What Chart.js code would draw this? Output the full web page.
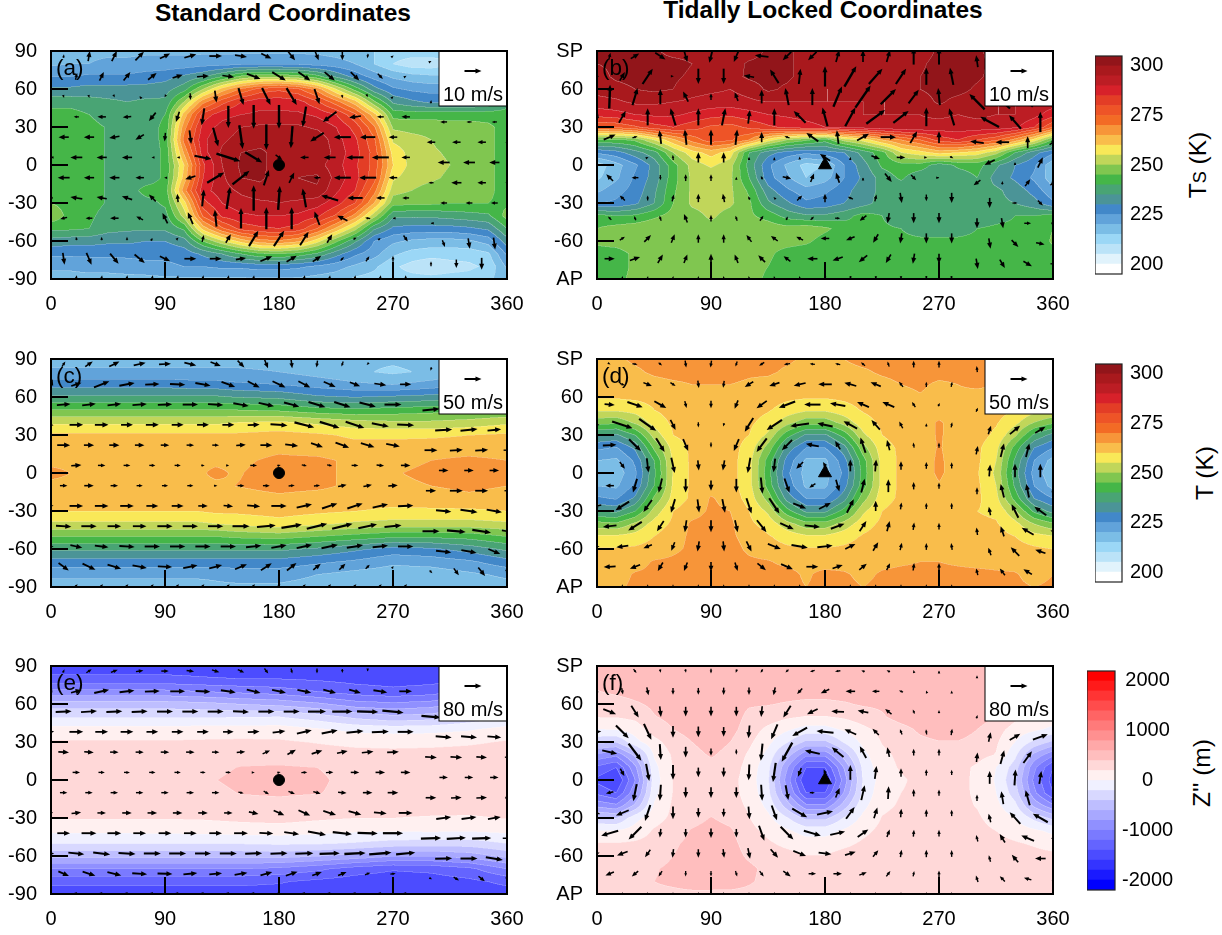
<!DOCTYPE html>
<html>
<head>
<meta charset="utf-8">
<title>Standard and Tidally Locked Coordinates</title>
<script src="https://cdn.jsdelivr.net/npm/chart.js@4"></script>
<style>
  body { margin: 0; background: #fff; font-family: "Liberation Sans", Arial, sans-serif; color: #000; }
  canvas { position: absolute; }
  .title { position: absolute; font-weight: bold; font-size: 24.5px; white-space: nowrap; transform: translateX(-50%); }
  .cbtitle { position: absolute; font-size: 24.5px; white-space: nowrap; transform: translate(-50%, -50%) rotate(-90deg); }
  .cbtitle span { font-size: 18px; }
</style>
</head>
<body>
<div class="title" style="left:283px;top:-1px">Standard Coordinates</div>
<div class="title" style="left:823px;top:-4px">Tidally Locked Coordinates</div>
<div class="cbtitle" style="left:1198px;top:165px">T<span>S</span> (K)</div>
<div class="cbtitle" style="left:1205px;top:473px">T (K)</div>
<div class="cbtitle" style="left:1202px;top:773px">Z'' (m)</div>
<script>
// grid axes
const lon15 = [0,15,30,45,60,75,90,105,120,135,150,165,180,195,210,225,240,255,270,285,300,315,330,345,360];
const lat10 = [90,80,70,60,50,40,30,20,10,0,-10,-20,-30,-40,-50,-60,-70,-80,-90];
const lonC = [0,30,60,90,115,130,145,180,210,240,270,300,330,360];
const lonE = [0,30,60,90,120,150,180,210,240,270,300,330,360];
const xTicks = [0,90,180,270,360];
const yTicks = [-90,-60,-30,0,30,60,90];
const windLats = [86,70,54,38,22,6,-10,-26,-42,-58,-74,-89];

// surface temperature, standard coordinates (K)
const aField = [
[219,219,219,219,219,219,219,219,219,219,219,219,219,219,219,218,217,215,213,213,213,213,213,215,219],
[219,220,220,221,221,222,222,222,223,223,224,224,224,224,223,222,220,215,210,207,207,209,211,213,219],
[225,225,226,226,226,227,228,231,234,240,246,249,249,247,242,234,228,223,219,217,216,216,217,219,225],
[231,231,232,232,232,232,233,238,250,262,271,277,279,276,268,255,243,232,226,224,223,223,224,226,231],
[238,238,237,236,235,236,236,250,268,278,285,288,288,287,281,272,262,246,234,231,229,229,229,231,238],
[242,242,240,237,237,238,240,262,282,288,290,291,291,291,289,285,276,262,243,243,243,243,243,243,242],
[243,243,242,239.5,237,238,241,268,287,292,295,296,296,296,294,290,283,271,249,248,248,247,247,246,243],
[243,243,242,239.5,237,238,241,272,289,294,297,298,298,299,299,292,286,276,254,252,250,247,246,246,243],
[243,243,242,239.5,237,237,241,266,288,296,300,301,298,300,300,293,287,278,258,253,251,249,247,246,243],
[243,243,242,239.5,236,237,241,260,284,295,301,302,296,298,297,292,286,278,260,253,252,250,247,246,243],
[243,243,242,239.5,237,237,241,262,285,294,300,301,297,300,301,293,287,277,256,252,251,249,247,246,243],
[243,242,242,239.5,237,242,242,268,288,293,296,298,297,298,299,291,285,272,252,250,248,247,246,246,243],
[245,243,242,239.5,237,238,241,258,283,290,293,294,295,294,292,287,280,265,247,246,246,245,245,245,244],
[249,243,241,238,237,237,238,252,276,286,289,290,290,289,286,279,268,252,236,236,236,237,238,239,247],
[241,241,240,237,236,236,236,241,262,274,282,284,285,283,275,264,252,236,229,228,228,228,229,231,240],
[233,232,232,231,231,230,230,233,245,254,262,268,269,266,257,246,236,225,221,219,218,218,219,222,233],
[226,226,226,226,226,226,226,227,231,235,240,244,245,243,239,232,226,222,216,213,212,212,212,214,226],
[221,221,222,222,223,224,224,225,225,226,226,227,227,226,224,222,219,216,211,208,206,208,209,211,221],
[218,218,218,218,218,218,219,219,219,219,219,219,219,219,218,217,214,213,212,212,212,212,212,214,218]
];
// surface temperature, tidally locked coordinates (K)
const bField = [
[300,301,301,301,298,298,298,297,297,301,301,298,297,297,298,298,297,297,301,301,301,298,298,298,300],
[300,301,302,302,302,300,297,297,301,302,301,298,297,297,297,297,297,299,302,302,301,299,298,298,300],
[298,301,302,302,301,299,297,298,301,302,301,298,296,296,296,296,297,300,302,303,301,298,297,297,298],
[297,298,300,301,300,297,296,295,297,301,299,296,295,295,295,295,296,300,302,302,299,296,296,296,297],
[293,294,296,296,295,294,293,293,294,295,295,295,295,295,295,295,295,297,301,298,297,295,295,294,293],
[287,288,290,291,291,289,287,286,288,290,291,292,293,294,295,295,295,295,296,295,296,295,295,292,287],
[275,276,279,283,285,282,279,278,281,284,286,288,290,291,292,293,294,294,293,293,293,293,291,285,275],
[244,244,246,255,264,272,278,276,270,258,250,246,242,252,257,265,270,275,282,285,280,276,268,258,244],
[226,228,233,238,250,258,262,258,240,232,228,226,228,230,237,243,255,258,262,260,258,252,240,232,226],
[212,218,224,232,243,252,256,252,238,226,219,213,215,225,233,241,243,243,237,241,242,236,230,226,216],
[214,219,226,232,243,251,251,251,240,227,221,215,218,225,231,237,241,236,236,237,240,233,229,224,217],
[219,223,227,234,244,251,251,251,244,232,226,222,224,228,233,236,236,236,236,236,236,236,233,228,221],
[225,226,229,235,245,251,252,251,246,236,231,226,227,230,233,237,236,236,236,236,236,236,235,232,226],
[242,240,241,244,247,248,251,248,246,243,238,236,236,238,242,240,236,236,236,236,236,238,240,240,242],
[245,247,248,249,248,248,248,248,248,248,247,248,246,243,241,241,240,238,238,238,240,241,241,241,245],
[246,247,248,248,248,248,248,248,248,247,247,246,243,242,241,241,241,241,241,241,241,241,241,241,246],
[243,243,246,247,248,248,248,248,248,246,243,242,242,241,241,241,241,241,241,241,241,241,241,241,243],
[243,243,246,247,248,248,248,248,247,245,242,242,241,241,241,241,241,241,241,241,241,241,241,241,243],
[243,244,246,247,248,248,248,248,247,244,242,242,241,241,241,241,241,241,241,241,241,241,241,241,243]
];
// 500 hPa temperature, standard coordinates (K)
const cField = [
[218,218,218,218,218,218,218,218,217,216,216,217,217,218],
[221,221,221,221,221,221,221,220,218,216,214,216,218,221],
[228,228,228,228,227,227,226,225,223,221,220,222,225,228],
[236,236,236,236,236,236,235,234,231,230,231,232,234,236],
[245,245,245,245,245,245,245,244,242,241,242,243,244,245],
[254,254,254,254,254,254,255,256,254,252,251,251,252,254],
[261,261,261,261,261,261,261,262,261,259,259,259,260,261],
[263,263,263,263,263,263,263,264,263,262,262,263,263,263],
[264,264,264,264,264,264,264,266,266,264,263,265,266,265],
[266,264,264,264,264,266,264.5,267,266,264,264.5,266.5,267,266.5],
[264,264,264,264,264,264,265,266.5,266,264,263.5,265,266,265],
[263,263,263,263,263,263,263,264,263,263,262,263,264,263],
[260,260,260,260,260,261,261,262,261,260,259,259,259,260],
[254,254,254,254,254,255,256,258,256,254,253,253,253,254],
[245,245,245,245,245,245,246,247,245,243,241,241,242,245],
[236,236,236,236,236,236,236,236,234,231,228,229,232,236],
[228,228,228,228,228,228,228,228,226,224,221,222,224,228],
[221,221,221,221,221,221,222,222,220,218,217,217,219,221],
[218,218,218,218,218,219,219,219,218,217,216,216,217,218]
];
// 500 hPa temperature, tidally locked coordinates (K)
const dField = [
[263,264,266,267,267,267,267,267,267,267,266,264,264,265,267,267,267,267,267,267,267,267,266,265,263],
[263,263,264,266,267,267,267,267,266,266,264,263,263,263,264,266,267,267,267,267,267,266,265,264,263],
[262,262,262,263,264,265,265,265,264,263,262,262,262,262,262,263,265,266,264,265,266,265,264,263,262],
[260.5,260.5,261,261.5,262,262.5,263,263,262,262,261,260.5,260.5,261,262,262,263,264.5,263,264,263,263,262,261,260],
[256,256,257,260,262,262.5,263,262.5,262,260.5,258,256,256,258,260.5,262,262.5,263,263,263,263,262,260,257,255.5],
[247,246,251,257,261,262,263,262,261,258,252,247,247,252,258,261,262,263,265.5,263,262,260.5,256.5,250,246],
[235,234,240,252,260,262,263,262,260,254,242,234,234,242,254,260,262,263,265.5,263,262,259,251,239,233],
[226,224.5,231,246,257,261,262,262,258,248,233,225,225,233,248,258,261,262,265.5,262,261,256.5,243,230,225],
[220,219,226,240,256,261,262,262,257,243,228,219,219,228,243,257,261,262,266,262,261,255,239,225,218],
[218,217,224,239,255.5,261,262,262,257,242,226,218,218,226,242,257,261,262,266,262,260.5,254,237,223,216],
[220,219,226,240,256,261,263,262,257,243,228,219,219,228,243,257,261,262,264.5,262,261,255,239,225,218],
[226,224.5,231,246,257,261,265.5,263,258,248,233,225,225,233,248,258,261,262,263,262,261,256.5,243,230,225],
[235,234,240,252,260,262.5,266,265,260,254,242,234,234,242,254,260,262,263,263,262,260,259,251,239,233],
[247,246,251,257,261,266,267,266,261,258,252,247,247,252,258,261,262,262,262,262,261,260.5,256.5,250,246],
[256,256,257,260,263,266,267,266,263,260.5,258,256,256,258,260.5,262,262,262,262,262,262,262,260,257,255.5],
[260.5,260.5,261,262,264,266,267,267,264,262,261,260.5,260.5,261,262,262,262,262,262,262,262,262,262,261,260],
[262,262,263,265.5,266,267,267,267,266,265.5,263.5,263,262,262,262,263,264,265,265,264,263,263,263,262,262],
[262,263,265.5,266,267,267,267,267,267,267,267,264,267,266,263,266,267,267,267,267,267,266,265.5,263,265],
[262,264,266,267,267,267,267,267,267,267,267,265,267,267,265,267,267,267,267,267,267,267,266,265,266]
];
// 500 hPa height anomaly, standard coordinates (m)
const eField = [
[-1500,-1500,-1500,-1500,-1500,-1500,-1500,-1500,-1500,-1500,-1500,-1500,-1500],
[-1350,-1350,-1350,-1350,-1380,-1400,-1400,-1430,-1470,-1490,-1480,-1430,-1350],
[-950,-950,-950,-950,-1000,-1050,-1100,-1200,-1300,-1350,-1300,-1150,-950],
[-500,-500,-500,-500,-530,-600,-650,-750,-900,-950,-900,-700,-500],
[-220,-220,-220,-220,-220,-210,-200,-300,-450,-550,-500,-350,-220],
[80,80,80,80,90,90,100,30,-50,-70,-60,-20,80],
[220,220,220,220,230,240,230,190,150,130,140,170,220],
[300,300,300,300,300,310,320,290,270,270,280,290,300],
[320,320,320,320,330,410,420,400,340,320,320,320,320],
[330,330,330,330,370,450,470,430,340,330,330,330,330],
[320,320,320,320,330,410,430,410,340,320,320,320,320],
[300,300,300,300,310,320,330,300,270,280,290,300,300],
[210,210,210,210,220,250,270,230,200,200,180,170,210],
[50,50,50,60,70,90,100,70,30,20,30,20,50],
[-200,-200,-200,-200,-200,-190,-170,-180,-220,-280,-300,-300,-200],
[-550,-550,-550,-550,-550,-550,-530,-600,-680,-800,-800,-720,-550],
[-1000,-1000,-1000,-1000,-1000,-1000,-1050,-1150,-1300,-1380,-1350,-1250,-1000],
[-1350,-1350,-1350,-1350,-1350,-1350,-1380,-1450,-1500,-1520,-1500,-1450,-1350],
[-1500,-1500,-1500,-1500,-1500,-1500,-1500,-1500,-1500,-1500,-1500,-1500,-1500]
];
// 500 hPa height anomaly, tidally locked coordinates (m)
const fField = [
[480,480,480,480,480,480,480,480,480,480,480,480,480,480,480,480,480,480,480,480,480,480,480,480,480],
[480,480,480,480,480,480,480,480,480,480,480,480,480,480,480,480,480,480,480,480,480,480,480,480,480],
[390,440,480,490,490,490,490,490,490,480,480,480,480,480,480,480,480,490,490,490,490,490,480,460,390],
[270,300,370,440,480,500,500,480,420,410,380,350,350,380,420,430,470,490,500,500,500,480,470,450,280],
[210,210,250,390,450,500,500,500,350,300,230,190,190,230,300,380,470,500,500,500,490,400,250,180,120],
[-10,10,90,300,400,470,500,470,300,150,30,-80,-80,30,150,260,340,430,480,480,400,280,120,40,-50],
[-350,-400,-70,130,300,400,480,400,240,50,-180,-450,-450,-180,50,210,300,360,390,390,340,230,0,-250,-450],
[-850,-950,-550,20,230,340,420,340,170,-60,-500,-950,-950,-500,-60,160,240,280,300,300,270,190,-150,-650,-950],
[-1250,-1400,-850,-60,210,280,340,300,130,-150,-780,-1400,-1400,-780,-150,130,220,250,260,260,170,0,-300,-950,-1400],
[-1450,-1600,-1000,-100,210,270,300,270,110,-180,-900,-1600,-1600,-900,-180,90,180,240,260,260,160,-20,-380,-1050,-1500],
[-1250,-1400,-850,-60,210,270,300,270,130,-150,-780,-1400,-1400,-780,-150,130,200,240,250,250,170,0,-300,-950,-1400],
[-850,-950,-550,20,230,280,320,280,170,-60,-500,-950,-950,-500,-60,160,220,240,250,250,190,50,-150,-650,-950],
[-350,-400,-70,130,240,320,410,340,210,50,-180,-450,-450,-180,50,210,250,260,260,260,230,120,0,-250,-450],
[0,10,90,220,290,420,480,430,260,150,30,-80,-80,30,150,250,290,300,300,300,260,200,120,40,-50],
[210,210,230,260,370,450,500,460,320,230,150,90,90,150,230,290,310,320,320,320,300,260,220,180,120],
[250,250,260,290,400,470,510,480,370,300,270,210,210,280,300,340,340,340,340,340,340,320,290,260,250],
[300,310,320,380,450,490,510,490,440,350,340,340,340,340,340,340,340,340,340,340,340,340,340,330,300],
[320,330,340,400,440,500,500,490,420,350,340,340,340,340,340,340,340,340,340,340,340,340,340,340,320],
[350,350,350,350,350,350,350,350,350,350,350,350,350,350,350,350,350,350,350,350,350,350,350,350,350]
];

// wind rows, one per windLats, as u,v pairs in m/s
const aWind = [
[.3,2,1,6,3,6,5,5,6,3,7,2,7.5,0,7,-1,6,-3,4,-5,2,-5,0,-5,-.5,-2.5,.8,.6,.5,.3,0,0,0,0,0,0],
[0,0,1,4,2.5,5,4,5,5,4,6,2,7,.5,7,-1,8,-3,8,-5,7,-5,6,-5,5,-5,3,-3,1,.6,2,3.5,0,0,0,0],
[.5,-1.5,.5,-1.5,.5,-1,-.3,.3,-.5,-1,.2,-4,1,-7,3,-10,5,-10,6,-10,3,-9,.5,-2,.3,-.5,.5,.5,.3,2,0,0,0,0,0,0],
[.5,0,-3,0,-5,0,-5,-.5,-4,-5,-2,-6,-1.5,-10,0,-13,0,-14,0,-14,-2,-12,-8,-6,-7,-1,-4,0,-5,0,-4,0,-3,0,-3,0],
[-6,0,-6,0,-6,-1,-5,-3,-.5,-5,1,-8,3,-11,2,-14,0,-15,-1,-13,-8,-5,-10,0,-9,0,-5,0,-5,0,-5,0,-5,0,-2,0],
[-.5,0,-7,0,-6,0,-6,0,-1,0,-1,0,10,-2,14,-4.5,10,-6,4,-3,-5,0,-7,0,-10,0,-10,0,-5,0,-7,0,-7,0,-6,0],
[-7,0,-6,0,-6,0,-5,0,-1,0,-6,-2,10,6,10,8,3,9,3,6,-4,0,-10,0,-10,0,-5,0,-3,0,-6,0,-5,0,-2,0],
[-2,0,-7,1,-6,1,-6,2,-4,4,-.5,5,1,10,2,13,0,15,1,14,-2,11,-10,3,-9,0,-5,0,-4,0,-4,0,-4,0,-4,0],
[-4,-1,-4,0,-5,0,-4,2,-3,6,-3,7,-1,10,0,12,0,13,0,13,-3,8,-6,3,-3,.5,-.5,0,-.3,0,0,0,0,0,0,0],
[0,0,-.5,2,0,2,0,2,.3,.5,1,1,1,4,3,5,5.5,9,6,9,5,8,3,5,2,1,.5,.3,2.5,-3.5,1.5,-4,1,-6,1,-7],
[1,-7,3,-7,5,-6,6,-5,6,-3,7,0,7,0,6,1,7,3,6,3.5,5,3.5,2,2,2,3,0,3.5,0,3,0,-5,0,-7,0,0],
[0,2,.5,3,.5,3,.5,3,.5,3,.5,3,.5,3,.5,3,.5,3,.5,3,.5,3,.5,3,.5,3,.5,3,0,3,0,3,0,3,0,3]
];
const bWind = [
[1,4,5,3,6,-4,2,-7,-2,-8,-3,-7,-8,1,-5,-5,-5,-5,2,7,0,7,2,7,0,10,0,10,-1,7,0,0,0,0,0,0],
[0,4,3,5,6,9,1,0,0,-9,0,-9,-6,1,-5,8,1,9,0,12,7,12,8,9,6,9,0,10,-2,10,-2,10,0,0,0,0],
[.5,14,3,10,0,9,-3,6,0,4,-2,5,0,8,-2,10,0,10,5,12,9,13,9,9,6,8,-1,10,-9,9,-9,8,-6,6,-4,3],
[1,5,4,7,0,10,-3,10,0,10,2,10,1,8,0,10,-7,7,-3,11,6,11,11,8,9,7,0,11,-3,10,-11,6,-7,8,0,12],
[7,3,3,1,-1,8,-1,9,0,9,1,9,0,6,-3,1,-7,5,-1,8,7,4,9,0,4,7,0,7,-8,1,-8,0,0,7,4,3],
[0,0,0,0,1,.5,-.3,3,0,6,0,6,0,.5,0,.3,0,1,-6,4,0,.5,5,-2,5,0,1,0,2,-1,-6,-3,0,.5,3,6],
[-4,4,-4,0,0,-3,0,4,0,4,0,1,-1,2,5,-1,2,5,-2,6,0,.3,4,-5,3,-3,.3,0,-4,-3,0,2,3,4,3,3],
[0,0,-3,3,0,3,1,4,0,5,-1,5,-1,2,-1,1,3,3,0,5,-3,1.5,1,4,1,-6,0,-4,0,-6,0,-6,3,0,3,-3],
[-2,2,-1,2.5,-1,3,-2,5,0,4,-1,3,2,3,1,2,2,2,3,0,-4,-3,-1,-6,0,-6,0,-6,0,-6,1,-6,4,0,2,0],
[1,0,3,2,4,4,2,5,0,5,0,5,-3,4,-4,3,-4,2,-5,0,-5,-2,-3,-5,-1,-6,0,-6,0,-6,1,-6,4,-4,5,-1],
[6,0,6,2,3,5,2,5,0,6,-2,5,-4,4,-4,3,-6,0,-6,-2,-5,-4,-3,-5,-1,-6,0,-6,1,-6,3,-5,5,-3,3,0],
[0,2,.5,2,.5,2,.5,2,0,2,-.5,2,-.5,2,-.5,2,-.5,2,-.5,-2,-.5,-2,-.5,-2,0,-2,0,-2,.5,-2,.5,-2,.5,-2,0,-2]
];
const cWind = [
[10,15,22,15,30,15,35,8,35,2,35,-8,30,-12,20,-20,10,-25,3,-25,-3,-20,-5,-15,-6,-6,0,0,-3,-10,0,0,0,0,0,0],
[10,30,30,10,45,18,45,8,42,2,45,-2,45,-8,40,-15,35,-18,38,-18,35,-18,35,-15,30,-12,35,-5,33,0,0,0,0,0,0,0],
[40,3,40,5,40,5,42,3,42,2,45,0,45,-3,45,-8,45,-10,45,-12,50,-15,48,-15,48,-12,50,0,50,5,0,0,0,0,0,0],
[15,-2,40,0,40,0,35,0,38,0,35,0,35,0,35,0,35,2,50,-3,58,-15,58,-18,55,-18,50,-10,50,-2,50,3,50,5,40,4],
[38,0,30,0,30,0,28,0,25,0,22,0,20,0,28,2,35,0,38,-5,35,-12,40,-15,40,-12,40,-8,38,0,38,2,38,2,20,0],
[5,5,30,2,22,0,20,0,18,0,18,0,10,0,5,0,20,0,10,2,15,-3,15,-3,20,0,22,-2,28,0,28,0,28,0,28,0],
[22,0,28,0,22,0,18,0,18,0,18,0,10,0,20,0,20,0,18,2,18,2,25,5,25,5,28,2,30,0,38,0,38,0,15,0],
[15,2,40,0,40,0,40,0,35,0,35,0,28,0,28,-3,38,-3,45,0,45,10,45,15,45,15,45,10,45,2,45,-4,50,-8,45,-8],
[45,-3,45,0,40,0,40,0,45,0,45,0,45,0,50,0,55,5,60,10,60,15,60,15,55,12,50,5,50,0,55,-5,55,-8,30,-5],
[15,-2,35,-8,40,-5,45,-3,45,0,45,0,45,0,45,0,45,5,45,8,45,10,48,10,48,8,45,5,45,0,45,-5,45,-8,35,-15],
[30,-22,38,-18,40,-12,42,-8,42,-2,42,8,38,10,35,15,32,20,28,22,22,18,18,18,12,12,3,5,8,-8,15,-20,20,-25,8,-12],
[0,8,8,8,8,8,8,8,8,8,8,8,8,8,8,8,8,8,8,8,8,8,8,8,8,8,8,8,8,8,8,8,0,8,0,8]
];
const dWind = [
[5,-3,15,-2,10,-8,3,-20,-3,-20,-5,-15,-15,-10,-18,-3,-15,2,-15,3,-12,10,-5,15,0,20,0,20,-2,18,0,0,0,0,0,0],
[5,-3,15,-5,25,-10,15,-10,3,-22,-3,-20,-25,-15,-30,-10,-35,-8,-40,0,-35,10,-30,12,-12,15,0,15,3,15,0,0,0,0,0,0],
[30,-3,45,-15,35,-20,5,-20,0,-22,-10,-25,-30,-22,-48,-18,-48,0,-45,8,-35,15,-35,15,-10,15,5,10,5,12,0,0,0,0,0,0],
[15,0,60,-20,50,-35,15,-30,0,-15,-3,-10,-25,-40,-45,-30,-55,-8,-45,10,-40,22,-25,28,-10,20,0,10,3,15,8,25,30,25,30,18],
[40,2,35,-35,25,-40,15,-35,0,-15,-15,-35,-30,-40,-30,-30,-38,8,-15,25,-15,45,-8,30,-3,15,0,15,5,25,10,40,10,40,0,0],
[0,0,15,-20,5,-42,10,-45,3,-30,-5,-30,-8,-45,-5,-40,-20,-20,-12,20,0,35,3,35,0,25,0,20,0,18,3,35,0,40,0,40],
[-25,0,-12,-40,-10,-42,0,-40,0,-30,0,-40,5,-48,15,-42,-18,-12,10,-35,10,40,0,38,0,22,0,18,0,20,-10,40,-8,40,5,10],
[-25,-5,-40,-25,-25,-35,-12,-40,5,-38,8,-40,15,-45,30,-45,38,-15,35,18,20,40,0,30,3,20,0,18,0,18,-5,25,-20,40,-35,25],
[-40,-5,-40,-25,-20,-30,-5,-35,0,-35,8,-35,28,-35,40,-18,45,-5,40,15,20,30,8,30,3,22,0,20,-3,22,-10,30,-35,20,-15,5],
[15,0,-35,-5,-25,-10,-10,-25,-5,-30,3,-30,15,-30,38,-15,48,-8,45,5,30,15,15,25,5,22,0,20,-3,20,-8,22,-25,25,-30,10],
[-35,-2,-30,-12,-15,-25,-10,-25,0,-28,8,-25,25,-20,35,-15,35,0,30,10,22,18,10,20,3,22,0,22,-5,20,-15,20,-25,15,-3,8],
[0,8,0,8,0,8,0,8,0,8,0,8,0,8,0,8,0,8,0,8,0,8,0,8,0,8,0,8,0,8,0,8,0,8,0,8]
];
const eWind = [
[8,16,25,16,32,13,35,5,35,0,35,-5,35,-11,30,-14,18,-24,6,-24,0,-24,0,-19,0,-3,0,0,0,0,0,0,0,0,0,0],
[10,30,50,13,70,16,70,8,70,3,70,0,70,-3,70,-10,65,-16,65,-13,65,-13,60,-16,55,-16,65,-10,60,0,0,0,0,0,0,0],
[75,3,75,5,75,3,75,3,75,0,75,0,75,0,75,-3,75,0,75,0,85,0,95,0,100,-3,100,-10,90,-8,0,0,0,0,0,0],
[30,3,65,0,60,0,60,0,55,0,55,0,55,0,50,0,55,3,60,8,70,16,75,16,80,8,80,3,75,0,75,-6,75,-6,65,-6],
[50,-3,45,-3,40,0,38,0,40,0,40,0,35,0,40,3,35,16,40,22,50,16,50,10,55,6,55,3,55,-3,55,-3,50,-3,20,0],
[8,3,35,0,30,0,28,0,30,0,30,0,25,0,25,0,10,0,15,3,28,2,35,2,40,0,45,0,45,0,40,0,40,0,40,0],
[35,0,35,0,35,0,35,0,35,0,35,0,35,0,25,-5,25,-15,30,-13,35,-10,40,-3,45,0,50,0,50,0,50,3,50,3,15,0],
[20,3,45,6,40,0,45,0,45,0,45,0,45,0,40,0,45,-10,50,-22,55,-25,60,-20,60,-16,60,-5,65,0,70,10,70,10,60,10],
[60,0,70,0,65,0,60,0,60,0,60,0,60,0,65,0,65,-3,70,-10,85,-16,90,-10,95,-3,95,0,95,3,90,6,90,3,40,0],
[30,-3,75,-8,80,-10,80,-5,80,0,80,0,75,0,80,0,80,3,80,3,85,3,95,3,100,5,105,8,90,8,80,3,80,0,80,-13],
[50,-22,60,-19,65,-16,70,-5,70,-2,65,6,60,5,60,10,55,16,55,19,45,16,40,16,25,10,25,3,10,-5,25,-16,30,-24,10,-16],
[0,6,8,6,8,6,8,6,8,6,8,6,8,6,8,6,8,6,8,6,8,6,8,6,8,6,8,6,8,6,8,6,0,6,0,6]
];
const fWind = [
[0,0,14,-19,3,-16,3,-16,0,-22,-6,-16,-10,-16,-14,-14,-22,-6,-25,-3,-16,5,-16,8,-3,10,0,5,0,8,0,0,0,0,0,0],
[-6,16,6,-30,8,-38,0,-32,0,-32,0,-35,0,-35,-8,-38,-24,-26,-40,-19,-45,0,-35,0,-19,8,-3,8,0,8,0,0,0,0,0,0],
[60,-24,35,-56,6,-50,0,-45,0,-45,0,-45,-5,-50,-35,-56,-50,-24,-60,3,-50,10,-30,24,-8,19,0,16,5,16,0,0,0,0,0,0],
[40,5,60,-60,35,-75,0,-55,0,-50,0,-45,-5,-60,-30,-70,-70,-40,-80,8,-55,25,-30,30,-10,25,-3,25,5,30,10,45,50,30,70,25],
[70,-16,60,-80,5,-75,0,-50,0,-35,0,-25,-8,-80,-50,-90,-70,16,-55,45,-30,55,-10,45,0,32,0,32,5,45,18,65,40,55,0,0],
[0,0,19,-35,15,-80,0,-70,0,-45,0,-45,-3,-75,-13,-90,-16,-40,-13,30,0,70,8,60,0,40,0,30,0,25,0,60,5,75,10,60],
[-35,-8,-16,-80,-5,-75,0,-50,0,-50,0,-50,5,-75,13,-70,24,0,19,45,16,70,3,60,0,35,0,30,0,30,-10,60,-20,70,3,10],
[-24,8,-60,-25,-25,-75,0,-60,0,-45,0,-40,5,-60,25,-70,70,-40,75,16,40,55,16,50,3,40,0,35,0,30,-10,40,-50,55,-70,40],
[-80,-24,-60,-60,-5,-40,0,-40,0,-45,0,-40,25,-70,60,-60,80,-24,70,16,50,35,13,35,3,32,0,32,-8,30,-25,40,-60,25,-20,0],
[25,8,-50,-19,-25,-35,-5,-40,0,-40,5,-40,10,-50,35,-40,60,-25,60,-8,50,16,25,30,5,35,0,35,0,32,-8,30,-30,35,-50,0],
[-40,-16,-30,-25,-16,-25,0,-25,0,-25,8,-25,19,-25,35,-25,35,0,40,0,35,13,19,25,5,25,0,30,-10,30,-24,25,-35,10,0,8],
[0,6,0,6,0,6,0,6,0,6,0,6,0,6,0,6,0,6,0,6,0,6,0,6,0,6,0,6,0,6,0,6,0,6,0,6]
];

// colour bands
const tempEdges = [195,200,205,210,215,220,225,230,235,240,245,250,255,260,265,270,275,280,285,290,295,300,305];
const tempColors = ['#ffffff','#e1f3fc','#bbe3f8','#9bd7f6','#7bbde6','#61a3da','#4288c9','#4b9497','#49a474','#45b648','#80c650','#c1d65a','#f9e858','#f9bd4b','#f79539','#f36b25','#ee5427','#e33d26','#d7212a','#bc1d24','#a9191d','#92151a'];
const tempTicks = [200,225,250,275,300];
const zEdges = [-2200,-2000,-1800,-1600,-1400,-1200,-1000,-800,-600,-400,-200,0,200,400,600,800,1000,1200,1400,1600,1800,2000,2200];
const zColors = ['#0000ff','#1a1aff','#3434ff','#4c4cff','#6464ff','#7a7aff','#9090ff','#a8a8ff','#bebeff','#d8d8ff','#f0f0ff','#fff0f0','#ffd8d8','#ffbebe','#ffa8a8','#ff9090','#ff7a7a','#ff6464','#ff4c4c','#ff3434','#ff1a1a','#ff0000'];
const zTicks = [-2000,-1000,0,1000,2000];

Chart.defaults.font.family = '"Liberation Sans", Arial, sans-serif';
Chart.defaults.font.size = 20;
Chart.defaults.color = '#000';
Chart.defaults.animation = false;

function hexToRgb(h) {
  return [parseInt(h.slice(1,3),16), parseInt(h.slice(3,5),16), parseInt(h.slice(5,7),16)];
}

// index of the grid cell holding v, axis may run up or down
function cellOf(axis, v) {
  let i = 0;
  const up = axis[1] > axis[0];
  while (i < axis.length - 2 && (up ? v > axis[i+1] : v < axis[i+1])) i++;
  return [i, (v - axis[i]) / (axis[i+1] - axis[i])];
}

function drawArrow(ctx, x, y, dx, dy) {
  const len = Math.hypot(dx, dy);
  if (len < 0.4) return;
  const ux = dx/len, uy = dy/len;
  // arrow is centred on its grid point
  const x0 = x - dx/2, y0 = y - dy/2, x1 = x + dx/2, y1 = y + dy/2;
  const head = Math.min(6, Math.max(3, len*0.6)), half = head*0.42;
  ctx.lineWidth = Math.min(2.4, 1 + len*0.06);
  ctx.beginPath();
  ctx.moveTo(x0, y0);
  ctx.lineTo(x1 - ux*head*0.8, y1 - uy*head*0.8);
  ctx.stroke();
  ctx.beginPath();
  ctx.moveTo(x1, y1);
  ctx.lineTo(x1 - ux*head - uy*half, y1 - uy*head + ux*half);
  ctx.lineTo(x1 - ux*head + uy*half, y1 - uy*head - ux*half);
  ctx.closePath();
  ctx.fill();
}

// contour bands and wind arrows, drawn under the marker dataset
const fieldPlugin = {
  id: 'field',
  beforeDatasetsDraw(chart, args, opts) {
    const { ctx, chartArea: area, scales } = chart;
    const w = Math.round(area.right - area.left), h = Math.round(area.bottom - area.top);
    const ss = 2;
    const off = document.createElement('canvas');
    off.width = w*ss; off.height = h*ss;
    const octx = off.getContext('2d');
    const img = octx.createImageData(w*ss, h*ss);
    const lonCells = [], latCells = [];
    for (let i = 0; i < w*ss; i++) lonCells.push(cellOf(opts.lons, scales.x.getValueForPixel(area.left + (i+.5)/ss)));
    for (let j = 0; j < h*ss; j++) latCells.push(cellOf(lat10, scales.y.getValueForPixel(area.top + (j+.5)/ss)));
    const rgb = opts.colors.map(hexToRgb);
    const bandAt = new Int16Array(w*ss*h*ss);
    const n = rgb.length, lo = opts.edges[0], step = opts.edges[1] - opts.edges[0];
    for (let j = 0; j < h*ss; j++) {
      const [r, fy] = latCells[j];
      const top = opts.field[r], bot = opts.field[r+1];
      for (let i = 0; i < w*ss; i++) {
        const [c, fx] = lonCells[i];
        const v = (top[c]*(1-fx) + top[c+1]*fx)*(1-fy) + (bot[c]*(1-fx) + bot[c+1]*fx)*fy;
        bandAt[j*w*ss + i] = Math.max(0, Math.min(n-1, Math.floor((v - lo)/step)));
      }
    }
    for (let j = 0; j < h*ss; j++) {
      for (let i = 0; i < w*ss; i++) {
        const k = j*w*ss + i, b = bandAt[k];
        const edge = (i > 0 && bandAt[k-1] !== b) || (j > 0 && bandAt[k-w*ss] !== b);
        const col = rgb[b], mix = edge ? 0.4 : 0;
        img.data[k*4] = col[0] + (255-col[0])*mix;
        img.data[k*4+1] = col[1] + (255-col[1])*mix;
        img.data[k*4+2] = col[2] + (255-col[2])*mix;
        img.data[k*4+3] = 255;
      }
    }
    octx.putImageData(img, 0, 0);
    ctx.save();
    ctx.imageSmoothingEnabled = true;
    ctx.imageSmoothingQuality = 'high';
    ctx.drawImage(off, area.left, area.top, w, h);
    ctx.beginPath();
    ctx.rect(area.left, area.top, w, h);
    ctx.clip();
    ctx.strokeStyle = '#000';
    ctx.fillStyle = '#000';
    const pxPerUnit = 17 / opts.key;
    chart.data.datasets[1].data.forEach(p => {
      drawArrow(ctx, scales.x.getPixelForValue(p.x), scales.y.getPixelForValue(p.y), p.u*pxPerUnit, -p.v*pxPerUnit);
    });
    ctx.restore();
  },
  afterDatasetsDraw(chart, args, opts) {
    const { ctx, chartArea: area, scales } = chart;
    ctx.save();
    // key box
    const bw = 68, bh = 55;
    const bx = area.right - bw, by = area.top;
    ctx.fillStyle = '#fff';
    ctx.fillRect(bx, by, bw, bh);
    ctx.strokeStyle = '#000';
    ctx.lineWidth = 1;
    ctx.strokeRect(bx, by, bw, bh);
    ctx.fillStyle = '#000';
    drawArrow(ctx, bx + bw/2, by + 20, 17, 0);
    ctx.font = '20px "Liberation Sans", Arial, sans-serif';
    ctx.textAlign = 'center';
    ctx.textBaseline = 'alphabetic';
    ctx.fillText(opts.key + ' m/s', bx + bw/2, by + 50);
    // panel letter
    ctx.textAlign = 'left';
    ctx.font = '22.5px "Liberation Sans", Arial, sans-serif';
    ctx.fillText(opts.letter, area.left + 5, area.top + 24);
    // inward ticks and frame
    ctx.lineWidth = 2;
    ctx.beginPath();
    yTicks.slice(1, -1).forEach(t => {
      const y = Math.round(scales.y.getPixelForValue(t));
      ctx.moveTo(area.left, y); ctx.lineTo(area.left + 17, y);
    });
    xTicks.slice(1, -1).forEach(t => {
      const x = Math.round(scales.x.getPixelForValue(t));
      ctx.moveTo(x, area.bottom); ctx.lineTo(x, area.bottom - 17);
    });
    ctx.stroke();
    ctx.strokeRect(area.left, area.top, area.right - area.left, area.bottom - area.top);
    ctx.restore();
  }
};

function windPoints(rows) {
  const pts = [];
  rows.forEach((row, i) => {
    for (let k = 0; k < 18; k++) {
      let lon = (i % 2 ? 0 : 10) + 20*k, lat = windLats[i];
      // the arrow lattice steps over east of 290
      if (lon >= 290) { lon += 10; lat -= 4; }
      pts.push({ x: lon, y: lat, u: row[2*k], v: row[2*k+1] });
    }
  });
  return pts;
}

// keep the plot box where it was asked for, labels may overhang it
function noMargins(a) {
  a.paddingTop = 0; a.paddingBottom = 0; a.paddingLeft = 0; a.paddingRight = 0;
}

function addPanel(cfg) {
  const canvas = document.createElement('canvas');
  const padTop = 16, axisW = 51, axisH = 36, padRight = 30;
  canvas.width = axisW + 456 + padRight;
  canvas.height = padTop + 228 + axisH;
  canvas.style.left = (cfg.left - axisW) + 'px';
  canvas.style.top = (cfg.top - padTop) + 'px';
  document.body.appendChild(canvas);
  new Chart(canvas, {
    type: 'scatter',
    data: {
      datasets: [
        { label: 'substellar point', data: [{ x: 180, y: 0 }], pointStyle: cfg.marker, pointRadius: cfg.marker === 'circle' ? 5.5 : 7.5, backgroundColor: '#000', borderColor: '#000' },
        { label: 'wind', data: windPoints(cfg.wind), pointRadius: 0, showLine: false }
      ]
    },
    options: {
      responsive: false,
      layout: { padding: { top: padTop, right: padRight, left: 0, bottom: 0 } },
      plugins: {
        legend: { display: false },
        tooltip: { enabled: false },
        field: { field: cfg.field, lons: cfg.lons, edges: cfg.edges, colors: cfg.colors, key: cfg.key, letter: cfg.letter }
      },
      scales: {
        x: {
          type: 'linear', min: 0, max: 360,
          grid: { display: false, drawTicks: false }, border: { display: false },
          afterBuildTicks: a => { a.ticks = xTicks.map(v => ({ value: v })); },
          afterFit: a => { a.height = axisH; noMargins(a); },
          ticks: { autoSkip: false, maxRotation: 0, padding: 13 }
        },
        y: {
          type: 'linear', min: -90, max: 90,
          grid: { display: false, drawTicks: false }, border: { display: false },
          afterBuildTicks: a => { a.ticks = yTicks.map(v => ({ value: v })); },
          afterFit: a => { a.width = axisW; noMargins(a); },
          ticks: {
            autoSkip: false, padding: 14,
            callback: v => cfg.marker === 'triangle' ? (v === 90 ? 'SP' : v === -90 ? 'AP' : String(v)) : String(v)
          }
        }
      }
    },
    plugins: [fieldPlugin]
  });
}

addPanel({ left: 51, top: 51, letter: '(a)', field: aField, lons: lon15, edges: tempEdges, colors: tempColors, wind: aWind, key: 10, marker: 'circle' });
addPanel({ left: 597, top: 51, letter: '(b)', field: bField, lons: lon15, edges: tempEdges, colors: tempColors, wind: bWind, key: 10, marker: 'triangle' });
addPanel({ left: 51, top: 359, letter: '(c)', field: cField, lons: lonC, edges: tempEdges, colors: tempColors, wind: cWind, key: 50, marker: 'circle' });
addPanel({ left: 597, top: 359, letter: '(d)', field: dField, lons: lon15, edges: tempEdges, colors: tempColors, wind: dWind, key: 50, marker: 'triangle' });
addPanel({ left: 51, top: 666, letter: '(e)', field: eField, lons: lonE, edges: zEdges, colors: zColors, wind: eWind, key: 80, marker: 'circle' });
addPanel({ left: 597, top: 666, letter: '(f)', field: fField, lons: lon15, edges: zEdges, colors: zColors, wind: fWind, key: 80, marker: 'triangle' });

// colour bars are floating bars on a linear axis
const barFrame = {
  id: 'barFrame',
  afterDraw(chart) {
    const { ctx, chartArea: a } = chart;
    ctx.save();
    ctx.strokeStyle = '#222';
    ctx.lineWidth = 1.2;
    ctx.strokeRect(a.left, a.top, a.right - a.left, a.bottom - a.top);
    ctx.restore();
  }
};

function addColorBar(cfg) {
  const canvas = document.createElement('canvas');
  const pad = 12, barW = cfg.right - cfg.left, axisW = 62;
  canvas.width = barW + axisW + 4;
  canvas.height = cfg.bottom - cfg.top + 2*pad;
  canvas.style.left = cfg.left + 'px';
  canvas.style.top = (cfg.top - pad) + 'px';
  document.body.appendChild(canvas);
  new Chart(canvas, {
    type: 'bar',
    data: {
      labels: [''],
      datasets: cfg.colors.map((c, i) => ({
        data: [[cfg.edges[i], cfg.edges[i+1]]],
        backgroundColor: c, borderWidth: 0,
        barPercentage: 1, categoryPercentage: 1, grouped: false
      }))
    },
    options: {
      responsive: false,
      layout: { padding: { top: pad, bottom: pad, left: 0, right: 4 } },
      plugins: { legend: { display: false }, tooltip: { enabled: false } },
      scales: {
        x: { display: false },
        y: {
          position: 'right', min: cfg.edges[0], max: cfg.edges[cfg.edges.length-1],
          grid: { display: false, drawTicks: false }, border: { display: false },
          afterBuildTicks: a => { a.ticks = cfg.ticks.map(v => ({ value: v })); },
          afterFit: a => { a.width = axisW; noMargins(a); },
          ticks: { autoSkip: false, padding: cfg.padding, crossAlign: cfg.cross, callback: v => String(v) }
        }
      }
    },
    plugins: [barFrame]
  });
}

addColorBar({ left: 1095, right: 1122, top: 56, bottom: 274, edges: tempEdges, colors: tempColors, ticks: tempTicks, padding: 8, cross: 'near' });
addColorBar({ left: 1095, right: 1122, top: 364, bottom: 582, edges: tempEdges, colors: tempColors, ticks: tempTicks, padding: 8, cross: 'near' });
addColorBar({ left: 1087, right: 1115, top: 671, bottom: 890, edges: zEdges, colors: zColors, ticks: zTicks, padding: 7, cross: 'center' });
</script>
</body>
</html>
